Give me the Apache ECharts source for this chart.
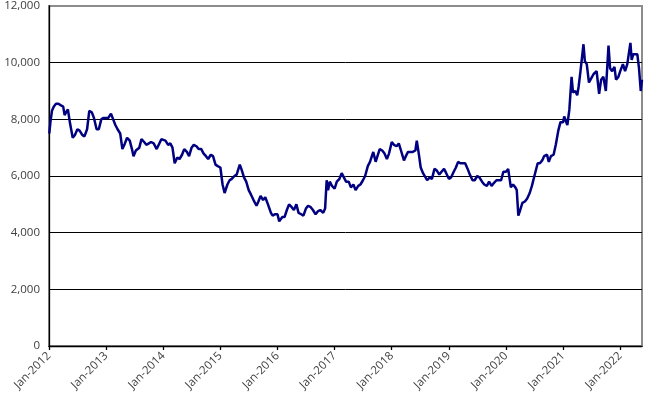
<!DOCTYPE html>
<html><head><meta charset="utf-8">
<script src="https://cdn.jsdelivr.net/npm/echarts@6/dist/echarts.min.js"></script>
<style>html,body{margin:0;padding:0;background:#fff}#c{width:661px;height:409px}</style>
</head><body><div id="c"></div>
<script>
const yTicks = [0, 2000, 4000, 6000, 8000, 10000, 12000];
const xTickYears = [2012, 2013, 2014, 2015, 2016, 2017, 2018, 2019, 2020, 2021, 2022];
const xStart = '2012-01-01';
const xEnd = '2022-05-20';

const p2012 = [['2012-01-03',7500],['2012-01-10',7900],['2012-01-20',8300],['2012-02-01',8450],['2012-02-15',8550],['2012-03-01',8550],['2012-03-15',8500],['2012-04-01',8450],['2012-04-10',8150],['2012-04-20',8250],['2012-05-01',8350],['2012-05-15',7850],['2012-06-01',7350],['2012-06-15',7450],['2012-07-01',7650],['2012-07-15',7600],['2012-08-01',7450],['2012-08-15',7400],['2012-09-01',7650],['2012-09-15',8300],['2012-10-01',8250],['2012-10-15',8050],['2012-11-01',7650],['2012-11-15',7650],['2012-12-01',8000],['2012-12-15',8050]];
const p2013 = [['2013-01-01',8050],['2013-01-15',8050],['2013-02-01',8200],['2013-02-15',8000],['2013-03-01',7800],['2013-03-15',7650],['2013-04-01',7500],['2013-04-15',6950],['2013-05-01',7150],['2013-05-15',7350],['2013-06-01',7250],['2013-06-15',6950],['2013-06-25',6700],['2013-07-10',6900],['2013-08-01',7000],['2013-08-15',7300],['2013-09-01',7200],['2013-09-15',7100],['2013-10-01',7150],['2013-10-15',7200],['2013-11-01',7150],['2013-11-20',6950],['2013-12-01',7000],['2013-12-20',7300]];
const p2014 = [['2014-01-01',7350],['2014-01-15',7250],['2014-02-01',7100],['2014-02-15',7150],['2014-03-01',7000],['2014-03-15',6450],['2014-04-01',6650],['2014-04-15',6600],['2014-05-01',6750],['2014-05-15',6950],['2014-06-01',6850],['2014-06-15',6700],['2014-07-01',7000],['2014-07-15',7100],['2014-08-01',7050],['2014-08-15',6950],['2014-09-01',6950],['2014-09-15',6800],['2014-10-01',6700],['2014-10-15',6600],['2014-11-01',6750],['2014-11-15',6700],['2014-12-01',6400],['2014-12-15',6350]];
const p2015 = [['2015-01-01',6300],['2015-01-15',5700],['2015-01-28',5400],['2015-02-15',5700],['2015-03-01',5850],['2015-03-15',5900],['2015-04-01',6000],['2015-04-15',6050],['2015-05-05',6400],['2015-05-15',6250],['2015-06-01',5950],['2015-06-15',5800],['2015-07-01',5500],['2015-07-15',5350],['2015-08-01',5150],['2015-08-20',4950],['2015-09-01',5100],['2015-09-15',5300],['2015-10-01',5150],['2015-10-15',5250],['2015-11-01',5000],['2015-11-20',4700],['2015-12-01',4600],['2015-12-15',4650]];
const p2016 = [['2016-01-01',4650],['2016-01-12',4400],['2016-02-01',4550],['2016-02-15',4550],['2016-03-01',4800],['2016-03-15',5000],['2016-04-01',4900],['2016-04-15',4800],['2016-05-01',5000],['2016-05-15',4700],['2016-06-01',4650],['2016-06-15',4600],['2016-07-01',4850],['2016-07-15',4950],['2016-08-01',4900],['2016-08-15',4800],['2016-09-01',4650],['2016-09-15',4750],['2016-10-01',4800],['2016-10-20',4700],['2016-11-01',4850],['2016-11-11',5850],['2016-11-20',5500],['2016-12-01',5800],['2016-12-15',5650]];
const p2017 = [['2017-01-01',5550],['2017-01-15',5800],['2017-02-01',5900],['2017-02-15',6100],['2017-03-01',5950],['2017-03-15',5800],['2017-04-01',5800],['2017-04-15',5600],['2017-05-01',5700],['2017-05-15',5500],['2017-06-01',5650],['2017-06-15',5700],['2017-07-01',5850],['2017-07-15',6000],['2017-08-01',6350],['2017-08-15',6500],['2017-09-05',6850],['2017-09-20',6500],['2017-10-01',6450],['2017-10-16',6950],['2017-11-01',6900],['2017-11-15',6800],['2017-12-01',6600],['2017-12-15',6800]];
const p2018 = [['2018-01-01',7200],['2018-01-15',7100],['2018-02-01',7050],['2018-02-15',7150],['2018-03-01',6900],['2018-03-20',6550],['2018-04-01',6700],['2018-04-15',6850],['2018-05-01',6850],['2018-05-15',6850],['2018-06-01',6900],['2018-06-10',7250],['2018-06-25',6700],['2018-07-05',6300],['2018-07-20',6100],['2018-08-01',6150],['2018-08-15',5850],['2018-09-01',5950],['2018-09-15',5900],['2018-10-01',6250],['2018-10-15',6200],['2018-11-01',6050],['2018-11-15',6150],['2018-12-01',6250],['2018-12-15',6100]];
const p2019 = [['2019-01-01',5900],['2019-01-15',5950],['2019-02-01',6150],['2019-02-15',6300],['2019-03-01',6500],['2019-03-15',6450],['2019-04-01',6450],['2019-04-15',6450],['2019-05-01',6250],['2019-05-15',6050],['2019-06-01',5850],['2019-06-15',5850],['2019-07-01',6000],['2019-07-15',5950],['2019-08-01',5800],['2019-08-15',5700],['2019-09-01',5650],['2019-09-15',5800],['2019-10-01',5650],['2019-10-15',5750],['2019-11-01',5850],['2019-11-15',5850],['2019-12-01',5850],['2019-12-15',6150]];
const p2020 = [['2020-01-01',6150],['2020-01-15',6250],['2020-02-01',5600],['2020-02-15',5700],['2020-03-01',5600],['2020-03-10',5500],['2020-03-20',4600],['2020-04-01',4800],['2020-04-15',5050],['2020-05-01',5100],['2020-05-15',5200],['2020-06-01',5400],['2020-06-15',5650],['2020-07-01',6000],['2020-07-22',6450],['2020-08-05',6450],['2020-08-20',6550],['2020-09-01',6700],['2020-09-20',6750],['2020-10-01',6500],['2020-10-15',6700],['2020-11-01',6750],['2020-11-15',7100],['2020-12-01',7600],['2020-12-15',7900]];
const p2021 = [['2021-01-01',7900],['2021-01-08',8100],['2021-01-28',7800],['2021-02-10',8350],['2021-02-24',9500],['2021-03-05',8950],['2021-03-20',9000],['2021-04-01',8850],['2021-04-10',9150],['2021-04-22',9700],['2021-05-11',10650],['2021-05-20',10050],['2021-06-01',9950],['2021-06-15',9300],['2021-06-25',9400],['2021-07-15',9600],['2021-08-03',9700],['2021-08-19',8900],['2021-09-01',9400],['2021-09-15',9500],['2021-10-01',9000],['2021-10-18',10600],['2021-10-28',9800],['2021-11-10',9700],['2021-11-25',9850],['2021-12-05',9400],['2021-12-20',9500]];
const p2022 = [['2022-01-01',9700],['2022-01-18',9950],['2022-02-01',9700],['2022-02-15',9950],['2022-03-07',10700],['2022-03-15',10100],['2022-03-25',10300],['2022-04-05',10350],['2022-04-20',10300],['2022-05-01',9800],['2022-05-12',9000],['2022-05-20',9400]];

function toYear(d) {
  const [y, m, dd] = d.split('-').map(Number);
  const s = Date.UTC(y, 0, 1), e = Date.UTC(y + 1, 0, 1);
  return y + (Date.UTC(y, m - 1, dd) - s) / (e - s);
}
const allPoints = [].concat(p2012, p2013, p2014, p2015, p2016, p2017, p2018, p2019, p2020, p2021, p2022)
  .map(([d, v]) => [toYear(d), v]);

const font = '"Open Sans", "DejaVu Sans", sans-serif';
const chart = echarts.init(document.getElementById('c'), null, { renderer: 'canvas' });
chart.setOption({
  animation: false,
  backgroundColor: '#fff',
  grid: { left: 49, right: 19, top: 6, bottom: 63, show: true, borderColor: '#8c8c8c', borderWidth: 2, backgroundColor: 'transparent' },
  xAxis: {
    type: 'value',
    min: toYear(xStart), max: toYear(xEnd),
    axisLine: { show: true, onZero: false, lineStyle: { color: '#000', width: 1.3 } },
    axisTick: { show: true, length: 4, customValues: xTickYears, lineStyle: { color: '#000', width: 1.3 } },
    axisLabel: { customValues: xTickYears, rotate: 45, margin: 8, color: '#404040', fontFamily: font, fontSize: 11.5,
      formatter: v => 'Jan-' + Math.round(v) },
    splitLine: { show: false }
  },
  yAxis: {
    type: 'value', min: yTicks[0], max: yTicks[yTicks.length - 1], interval: 2000,
    axisLine: { show: true, lineStyle: { color: '#000', width: 1.3 } },
    axisTick: { show: false },
    axisLabel: { margin: 9, color: '#404040', fontFamily: font, fontSize: 11.5,
      formatter: v => v.toLocaleString('en-US') },
    splitLine: { show: true, lineStyle: { color: ['#000', '#000', '#000', '#000', '#000', '#000', 'transparent'], width: 1 } }
  },
  series: [{
    type: 'line', data: allPoints, showSymbol: false, symbol: 'none',
    lineStyle: { color: '#000080', width: 2.5 }, z: 3
  }]
});
</script></body></html>
